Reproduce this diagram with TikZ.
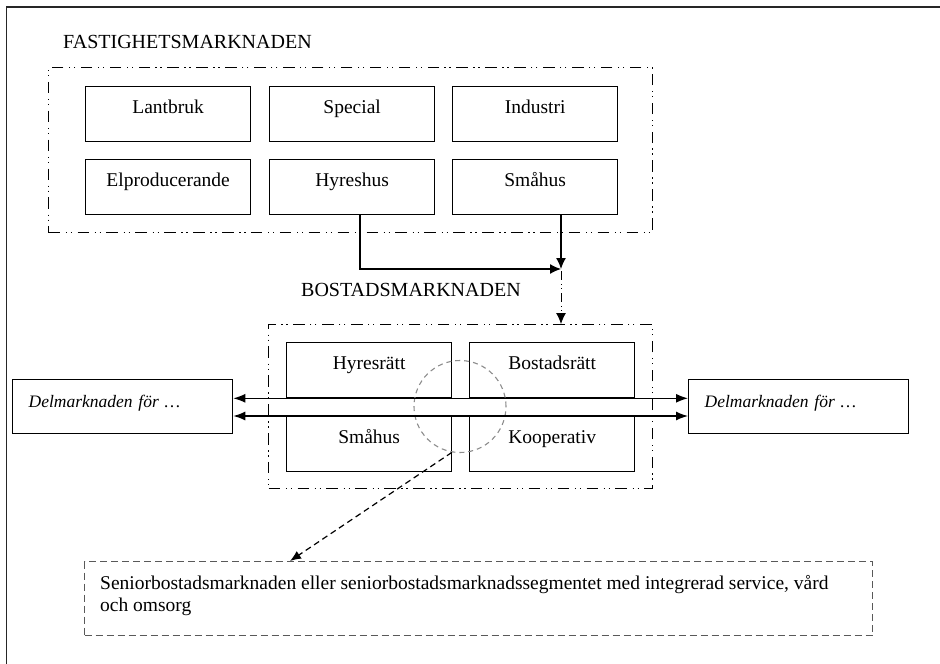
\documentclass[tikz,border=0pt]{standalone}
\usepackage{fontspec}
\setmainfont{Liberation Serif}
\usetikzlibrary{arrows.meta}
\begin{document}
\begin{tikzpicture}[x=1pt,y=-1pt,
  txt/.style={font=\fontsize{19.5}{22}\selectfont},
  cell/.style={txt, draw=black, line width=1.3pt, anchor=north west,
    minimum width=165pt, inner xsep=0pt, inner ysep=0pt,
    text height=27pt, text depth=28pt},
  side/.style={font=\fontsize{17.5}{22}\selectfont\itshape, draw=black,
    line width=1.3pt, anchor=north west, text width=188pt, inner xsep=16pt,
    inner ysep=0pt, text height=28pt, text depth=26pt, align=left},
  region/.style={draw=black, line width=1.2pt, anchor=north west, inner sep=0pt,
    dash pattern=on 11.5pt off 5.7pt on 1.3pt off 3.7pt on 1.3pt off 5.4pt},
  heading/.style={font=\fontsize{20}{22}\selectfont, anchor=base west, inner sep=0pt},
  conn/.style={draw=black, line width=1.3pt},
  tip/.style={-{Latex[length=11pt,width=10pt]}},
  sidetips/.style={{Latex[length=12pt,width=9pt]}-{Latex[length=12pt,width=9pt]}},
  ddot/.style={draw=black, line width=0.9pt,
    dash pattern=on 9pt off 4pt on 1pt off 3pt on 1pt off 4pt},
]
\useasboundingbox (0,0) rectangle (940,664);

% page frame
\draw[line width=1.5pt, draw=black!85] (6.5,664) -- (6.5,7) -- (940,7);

% property market
\node[heading] (fmtitle) at (63,48) {FASTIGHETSMARKNADEN};
\node[region, minimum width=604pt, minimum height=165pt] (fm) at (48,67) {};
\node[cell] (lantbruk) at (85,86)  {Lantbruk};
\node[cell] (special)  at (269,86) {Special};
\node[cell] (industri) at (452,86) {Industri};
\node[cell] (elprod)   at (85,159)  {Elproducerande};
\node[cell] (hyreshus) at (269,159) {Hyreshus};
\node[cell] (smahus)   at (452,159) {Småhus};

% housing market
\node[heading] (bmtitle) at (301,296) {BOSTADSMARKNADEN};
\node[region, minimum width=384pt, minimum height=164pt] (bm) at (268,324) {};
\node[cell] (hyresratt)   at (286,342) {Hyresrätt};
\node[cell] (bostadsratt) at (469,342) {Bostadsrätt};
\node[cell] (smahusb)     at (286,416) {Småhus};
\node[cell] (kooperativ)  at (469,416) {Kooperativ};

% sub-markets on both sides
\node[side] (dl) at (12,379)  {Delmarknaden för …};
\node[side] (dr) at (688,379) {Delmarknaden för …};

% overlap of the four tenures
\node[circle, draw=black!45, line width=1.1pt, dash pattern=on 5pt off 4pt,
  minimum size=92pt, inner sep=0pt] (overlap) at (460,406.5) {};

% senior housing segment
\node[draw=black!65, line width=1.2pt, dash pattern=on 7pt off 4pt,
  anchor=north west, minimum width=788pt, minimum height=74pt,
  inner sep=0pt] (senior) at (84,561) {};
\node[txt, anchor=north west, inner sep=0pt, align=left] (seniortext) at (100,575)
  {Seniorbostadsmarknaden eller seniorbostadsmarknadssegmentet med integrerad service, vård\\och omsorg};

% connectors
\coordinate (junc) at (561,269);
\draw[conn, tip] ([xshift=91pt]hyreshus.south west) |- (junc);
\draw[conn, tip] ([xshift=109pt]smahus.south west) -- (junc);
\draw[ddot, tip] ([yshift=-2pt]junc) -- (junc |- bm.north);

\draw[conn, sidetips] (dl.east |- hyresratt.south) -- (dr.west |- hyresratt.south);
\draw[conn, sidetips] (dl.east |- smahusb.north) -- (dr.west |- smahusb.north);

\draw[draw=black, line width=1.2pt, dash pattern=on 6pt off 4pt,
  -{Latex[length=11pt,width=9pt]}]
  (overlap.260) -- ([xshift=206pt]senior.north west);
\end{tikzpicture}
\end{document}
